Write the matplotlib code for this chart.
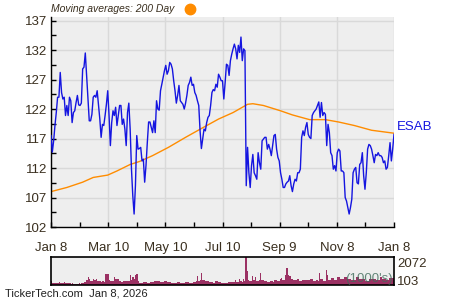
import matplotlib.pyplot as plt
import numpy as np

# price (daily close)
price = [
    117.5, 114.7, 116.6, 119.2, 121.4, 124.0, 124.0, 128.2, 124.8, 123.7,
    124.0, 120.9, 122.6, 120.9, 124.0, 123.4, 119.7, 121.4, 121.7, 123.1,
    124.3, 122.7, 122.6, 123.0, 128.8, 129.1, 131.5, 127.7, 123.7, 120.0,
    120.0, 121.1, 124.0, 124.3, 124.0, 125.1, 122.6, 120.3, 117.2, 119.4,
    119.2, 120.9, 122.8, 125.1, 120.9, 115.8, 119.7, 121.7, 120.9, 122.3,
    119.2, 120.9, 122.6, 122.6, 119.4, 120.3, 118.6, 115.8, 121.4, 123.0,
    118.6, 111.8, 107.3, 104.2, 109.0, 117.5, 115.2, 115.3,
    115.5, 113.2, 113.5, 109.6, 112.4, 116.3, 119.8, 119.8, 118.9, 118.0,
    120.0, 118.0, 123.4, 122.0, 121.8, 125.1, 126.2, 127.4, 128.5, 129.4,
    127.9, 128.5, 129.9, 129.6, 128.8, 126.8, 125.1, 123.0, 124.3, 126.0,
    123.4, 123.1, 122.8, 122.0, 123.0, 124.3, 126.0, 126.5, 127.4, 126.0,
    126.2, 124.8, 124.3, 123.4, 122.6, 118.3, 115.3, 116.9, 118.6, 118.3,
    119.7, 120.6, 120.9, 122.6, 124.8, 125.3, 125.1, 126.2, 125.7, 127.9,
    127.4, 126.8, 126.8,
    123.7, 126.5, 129.6, 129.4, 127.7, 130.2, 131.3, 132.2, 133.0, 132.2,
    130.5, 132.8, 131.6, 134.2, 130.2, 132.2, 131.9, 109.0, 115.5, 111.2,
    108.7, 112.4, 114.3, 111.2, 110.7, 110.1, 114.6, 112.9, 111.8, 116.6,
    116.9, 117.2, 117.2, 115.2, 116.0, 115.2, 114.1, 115.8, 117.5, 117.7,
    115.2, 113.8, 113.2, 111.2, 110.1, 108.7, 108.7, 109.3, 109.6, 109.8,
    110.7, 109.0, 108.0, 109.3, 110.1, 109.8, 111.2, 111.2, 111.8, 117.2,
    118.3, 117.5, 118.9, 119.7, 117.7,
    117.2, 117.0, 120.9, 121.4, 121.7, 122.0, 122.6, 123.2, 120.6, 123.1,
    120.9, 121.4, 121.1, 115.8, 119.4, 118.0, 114.6, 114.1, 111.8, 112.4,
    111.5, 114.6, 115.2, 114.9, 111.5, 111.5, 111.2, 107.0, 106.4, 105.3,
    104.2, 105.3, 106.7, 111.2, 111.8, 112.1, 109.5, 109.3, 112.6, 112.9,
    114.6, 110.7, 108.4, 111.2, 115.2, 116.0, 115.8, 115.2, 114.1, 112.9,
    114.3, 114.1, 114.6, 114.1, 114.1, 113.8, 112.9, 113.2, 111.8, 112.1,
    114.1, 116.3, 113.2, 115.2, 117.7,
]

# 200 day moving average, sampled at these day indices
ma_day = [0, 12, 24, 32, 43, 50, 60, 67, 77, 89, 102, 114, 127, 138, 149,
          153, 161, 174, 183, 196, 208, 218, 230, 243, 260]
ma_val = [108.0, 108.7, 109.6, 110.4, 110.8, 111.5, 112.6, 113.1, 114.1,
          115.5, 117.2, 118.7, 120.3, 121.4, 122.8, 122.9, 122.6, 121.7,
          121.0, 120.2, 120.2, 119.8, 119.2, 118.4, 117.9]

# volume in 1000's
volume = [
    272, 150, 150, 148, 150, 130, 222, 148, 124, 124, 198, 124, 124, 124,
    124, 110, 124, 99, 74, 99, 74, 124, 99, 124, 173, 222, 222, 395, 593,
    420, 296, 296, 420, 400, 420, 272, 296, 272, 222, 296, 198, 840, 840,
    790, 395, 296, 321, 296, 593, 420, 445, 445, 272, 198, 198, 296, 296,
    272, 296, 296, 716, 395, 593, 420, 766, 790, 272, 173, 148, 173, 222,
    198, 222, 173, 173, 222, 222, 198, 321, 321, 296, 272, 272, 222, 222,
    198, 272, 272, 222, 222, 198, 148, 148, 148, 148, 173, 198, 198, 173,
    173, 173, 148, 222, 222, 198, 124, 124, 124, 198, 198, 272, 642, 296,
    395, 865, 346, 395, 272, 272, 272, 222, 222, 198, 173, 173, 321, 321,
    222, 222, 148, 148, 148,
    171, 171, 171, 195, 195, 195, 195, 195, 366, 195, 195, 415, 268, 220,
    439, 268, 2072, 1000, 366, 317, 317, 659, 366, 561, 293, 293, 366, 903,
    366, 366, 293, 293, 244, 244, 244, 317, 317, 244, 390, 390, 268, 268,
    415, 512, 390, 390, 756, 1293, 756, 659, 659, 439, 366, 366, 366, 464,
    464, 317, 317, 366, 366, 366, 390, 390, 390, 439, 439, 268, 268, 268,
    390, 317, 854, 439, 439, 317, 317, 1122, 756, 366, 366, 512, 512, 366,
    366, 366, 561, 561, 439, 439, 439, 610, 610, 439, 439, 439, 366, 366,
    366, 366, 561, 561, 439, 439, 439, 439, 439, 317, 317, 317, 439, 439,
    439, 439, 439, 366, 366, 366, 610, 610, 439, 439, 439, 366, 366, 512,
    512, 512, 512,
]

tick_labels = ['Jan 8', 'Mar 10', 'May 10', 'Jul 10', 'Sep 9', 'Nov 8', 'Jan 8']

plt.rcParams['font.family'] = ['Liberation Sans', 'DejaVu Sans']
txt = '#3a2f1f'
bg = '#eeeeee'
gridc = '#d9d9d9'

n = len(price)
days = np.arange(n)
last = n - 1
xt = np.linspace(0, last, len(tick_labels))
xminor = (xt[:-1] + xt[1:]) / 2

fig = plt.figure(figsize=(4.5, 3), dpi=100)

ax = fig.add_axes([51 / 450, 1 - 227 / 300, 343 / 450, 210 / 300])
ax.set_facecolor(bg)
ax.plot(days, price, color='#1515e0', lw=1.0, zorder=3)
ax.plot(ma_day, ma_val, color='#ff8c00', lw=1.0, zorder=2)
ax.set_xlim(0, last)
ax.set_ylim(102, 137.6)
ax.set_yticks(np.arange(102, 138, 5))
ax.set_yticks(np.arange(104.5, 137, 5), minor=True)
ax.set_xticks(xt)
ax.set_xticks(xminor, minor=True)
ax.set_xticklabels(tick_labels)
ax.grid(True, which='major', color=gridc, lw=1.0, zorder=0)
ax.set_axisbelow(True)
for s in ['top', 'right']:
    ax.spines[s].set_visible(False)
for s in ['left', 'bottom']:
    ax.spines[s].set_color('black')
    ax.spines[s].set_linewidth(1.0)
ax.tick_params(which='both', direction='in', length=3.5, width=1, color='black',
               labelsize=9.5, labelcolor=txt)
ax.tick_params(axis='x', pad=11)
ax.tick_params(axis='y', pad=3)
ax.text(1.008, (price[-1] + 1.2 - 102) / 35.6, 'ESAB', transform=ax.transAxes,
        color='#1515e0', fontsize=9.5, va='center', ha='left')

# title with orange dot
fig.text(51 / 450, 1 - 9 / 300, 'Moving averages: 200 Day', style='italic',
         color=txt, fontsize=7.5, va='center', ha='left')
fig.add_artist(plt.Line2D([190 / 450], [1 - 9 / 300], marker='o', markersize=7.5,
                          color='#ff8c00', transform=fig.transFigure))

# volume panel
vax = fig.add_axes([51 / 450, 1 - 285 / 300, 343 / 450, 28 / 300])
vax.set_facecolor(bg)
vax.bar(np.arange(len(volume)), volume, width=1.0, color='#9b3163', linewidth=0)
vax.set_xlim(-0.5, len(volume) - 0.5)
vax.set_ylim(0, max(volume))
vax.set_xticks([])
vax.set_yticks([])
for s in vax.spines.values():
    s.set_color('black')
    s.set_linewidth(1.2)
vax.text(1.01, 0.74, '2072', transform=vax.transAxes, color=txt, fontsize=9.5,
         va='center', ha='left')
vax.text(1.01, 0.1, '103', transform=vax.transAxes, color=txt, fontsize=9.5,
         va='center', ha='left')
vax.text(0.995, 0.2, "(1000's)", transform=vax.transAxes, color='#3f6b5a',
         alpha=0.8, fontsize=9.5, va='center', ha='right')

fig.text(5 / 450, 1 - 294 / 300, 'TickerTech.com  Jan 8, 2026', color='#222222',
         fontsize=8, va='center', ha='left')

fig.savefig('out.png', dpi=100)
